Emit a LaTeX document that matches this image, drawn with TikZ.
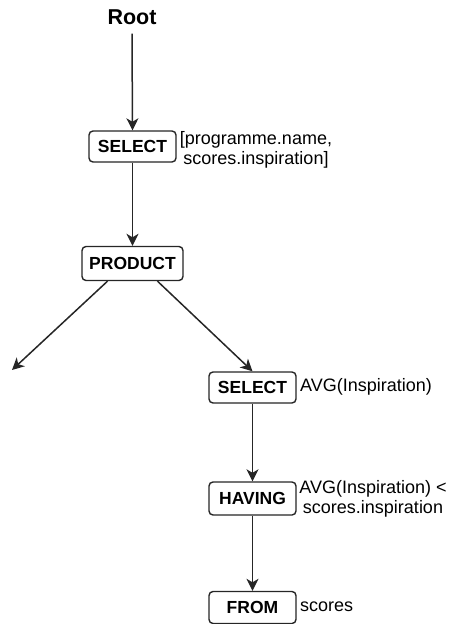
\documentclass[tikz,border=0pt]{standalone}
\usepackage{fontspec}
\setmainfont{Liberation Sans}
\usetikzlibrary{arrows.meta}

\tikzset{
  opbox/.style={draw=black!85, line width=1.4pt, rounded corners=4pt, fill=white,
    inner sep=0pt, minimum width=87pt, minimum height=31pt,
    font=\bfseries\fontsize{17.5}{20}\selectfont},
  note/.style={inner sep=0pt, font=\fontsize{18}{20}\selectfont, align=center},
  arr/.style={draw=black!85, line width=1.5pt,
    -{Stealth[length=12pt, width=12pt, inset=3.5pt]}},
}

\begin{document}
\begin{tikzpicture}[x=1pt, y=-1pt]
  \useasboundingbox (0,0) rectangle (453,624);

  % root label
  \node[inner sep=0pt, font=\bfseries\fontsize{21.5}{24}\selectfont] (root) at (132,17) {Root};

  % operator boxes
  \node[opbox] (sel1) at (132.5,146.5) {SELECT};
  \node[opbox, minimum width=101pt, minimum height=34pt] (prod) at (132.5,263.5) {PRODUCT};
  \node[opbox] (sel2) at (252.5,387.5) {SELECT};
  \node[opbox, minimum height=33pt] (hav) at (252.5,498.5) {HAVING};
  \node[opbox, minimum height=32pt] (from) at (252.5,607.5) {FROM};

  % annotations beside the boxes
  \node[note] (n1) at (256,150) {[programme.name,\\scores.inspiration]};
  \node[note, anchor=west] (n2) at (300,387) {AVG(Inspiration)};
  \node[note] (n3) at (373,499) {AVG(Inspiration) <\\scores.inspiration};
  \node[note, anchor=west] (n4) at (300,607) {scores};

  % loose end of the left branch
  \coordinate (leftend) at (12,370);

  % connectors
  \draw[arr] ([yshift=-9pt]root.south) -- (sel1.north);
  \draw[arr] (sel1.south) -- (prod.north);
  \draw[arr] ([xshift=-25pt]prod.south) -- (leftend);
  \draw[arr] ([xshift=25pt]prod.south) -- (sel2.north);
  \draw[arr] (sel2.south) -- (hav.north);
  \draw[arr] (hav.south) -- (from.north);
\end{tikzpicture}
\end{document}
